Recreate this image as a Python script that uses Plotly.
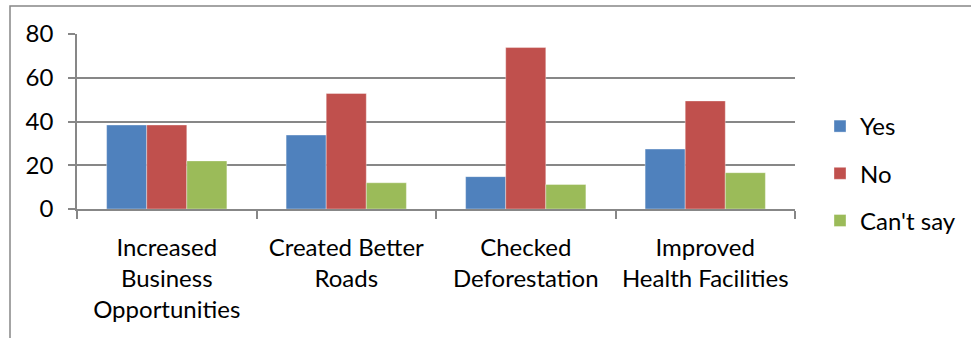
import plotly.graph_objects as go

# Survey responses per perceived impact (percent of respondents)
categories = [
    "Increased<br>Business<br>Opportunities",
    "Created Better<br>Roads",
    "Checked<br>Deforestation",
    "Improved<br>Health Facilities",
]
yes_values = [38.4, 33.8, 14.8, 27.4]
no_values = [38.4, 52.8, 73.8, 49.4]
cant_say_values = [22.0, 12.0, 11.2, 16.6]
y_ticks = [0, 20, 40, 60, 80]

W, H = 971, 338
ML, MR, MT, MB = 77, 176, 34, 129
PW, PH = W - ML - MR, H - MT - MB

FONT = "Lato, 'Open Sans', sans-serif"
GRID = "#878787"

series = [
    ("Yes", yes_values, "#4F81BD"),
    ("No", no_values, "#C0504D"),
    ("Can't say", cant_say_values, "#9BBB59"),
]

fig = go.Figure()
for i, (name, vals, color) in enumerate(series):
    fig.add_trace(go.Bar(
        name=name, x=categories, y=vals,
        marker=dict(color=color, line=dict(color="rgba(255,255,255,0.6)", width=0.6)),
        legendgroup=f"g{i}",
    ))

# Outer chart-area frame (left and top edges visible)
fig.add_shape(
    type="rect", xref="paper", yref="paper",
    x0=(10 - ML) / PW, x1=(W + 5 - ML) / PW,
    y0=-(H + 5 - (H - MB)) / PH, y1=1 + (MT - 6) / PH,
    line=dict(color=GRID, width=1.5), fillcolor="rgba(0,0,0,0)", layer="below",
)

fig.update_layout(
    width=W, height=H,
    margin=dict(l=ML, r=MR, t=MT, b=MB, pad=0, autoexpand=False),
    paper_bgcolor="white", plot_bgcolor="white",
    font=dict(family=FONT, size=24, color="#000000"),
    barmode="group", bargap=0.33, bargroupgap=0,
    showlegend=True,
    legend=dict(
        x=(820 - ML) / PW, xanchor="left",
        y=1 - (104 - MT) / PH, yanchor="top",
        font=dict(family=FONT, size=24, color="#000000"),
        tracegroupgap=13, bgcolor="rgba(0,0,0,0)",
    ),
    xaxis=dict(
        showline=True, linecolor=GRID, linewidth=2,
        ticks="outside", tickson="boundaries", ticklen=8, tickwidth=1.5, tickcolor=GRID,
        showgrid=False, tickfont=dict(family=FONT, size=24),
        ticklabelstandoff=16,
    ),
    yaxis=dict(
        range=[0, 80], tickvals=y_ticks, ticktext=[str(v) for v in y_ticks],
        showline=True, linecolor=GRID, linewidth=1.5,
        ticks="outside", ticklen=7, tickwidth=1.5, tickcolor=GRID,
        showgrid=True, gridcolor=GRID, gridwidth=1.5,
        zeroline=False, tickfont=dict(family=FONT, size=24),
        ticklabelstandoff=10,
    ),
)

fig.write_html("out.html")
